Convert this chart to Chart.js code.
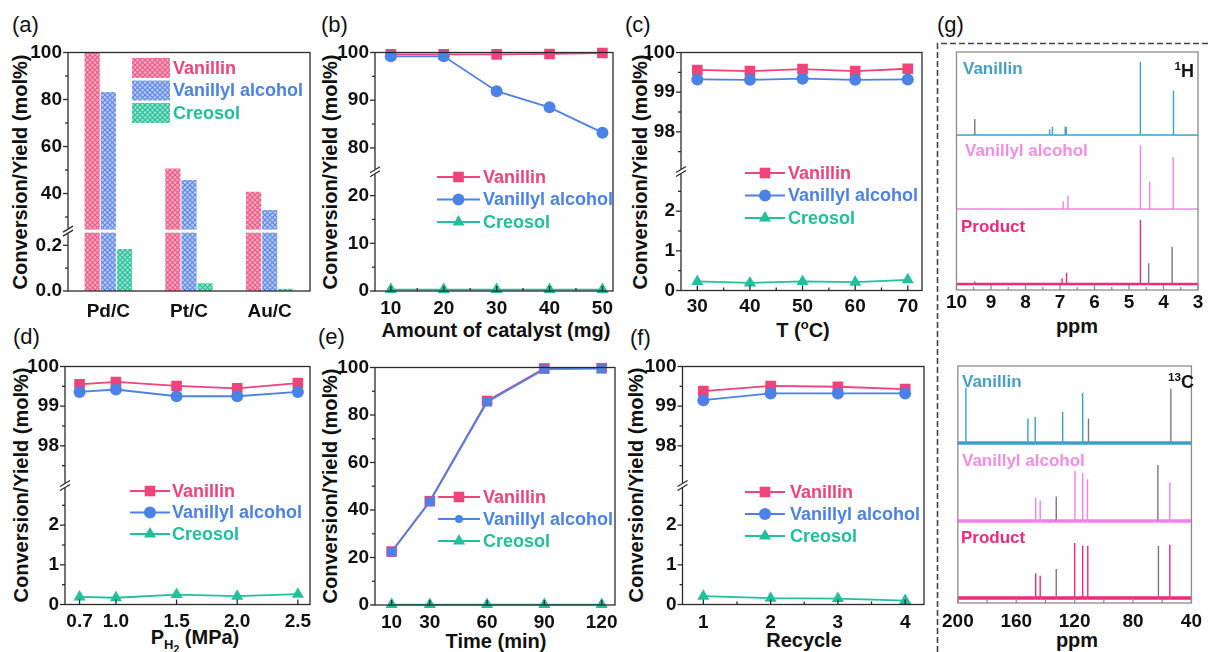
<!DOCTYPE html>
<html>
<head>
<meta charset="utf-8">
<script src="https://cdn.jsdelivr.net/npm/chart.js@4.4.1/dist/chart.umd.min.js"></script>
<style>
  body { margin: 0; width: 1209px; height: 652px; overflow: hidden; position: relative; background: #fff;
         font-family: 'Liberation Sans', Arial, sans-serif; color: #111; }
  canvas { position: absolute; }
  .lbl { position: absolute; font-size: 22px; line-height: 22px; }
  .t { position: absolute; font-weight: bold; font-size: 20px; line-height: 1; white-space: nowrap;
       transform: translate(-50%, -50%); }
  .yt { transform: translate(-50%, -50%) rotate(-90deg); }
  .nm { position: absolute; font-weight: bold; font-size: 17px; line-height: 1; white-space: nowrap;
        transform: translateY(-50%); }
  sub, sup { font-size: 0.65em; }
  sub sub { font-size: 0.8em; }
</style>
</head>
<body>

<div class="lbl" style="left:12px;top:14px">(a)</div>
<div class="lbl" style="left:321px;top:14px">(b)</div>
<div class="lbl" style="left:625px;top:14px">(c)</div>
<div class="lbl" style="left:937px;top:14px">(g)</div>
<div class="lbl" style="left:13px;top:326px">(d)</div>
<div class="lbl" style="left:318px;top:326px">(e)</div>
<div class="lbl" style="left:630px;top:327px">(f)</div>

<div class="t yt" style="left:20px;top:172px">Conversion/Yield (mol%)</div>
<div class="t yt" style="left:330px;top:172px">Conversion/Yield (mol%)</div>
<div class="t yt" style="left:640px;top:172px">Conversion/Yield (mol%)</div>
<div class="t yt" style="left:21px;top:485px">Conversion/Yield (mol%)</div>
<div class="t yt" style="left:330px;top:486px">Conversion/Yield (mol%)</div>
<div class="t yt" style="left:636px;top:485px">Conversion/Yield (mol%)</div>

<div class="t" style="left:496px;top:330px">Amount of catalyst (mg)</div>
<div class="t" style="left:803px;top:329px">T (<sup>o</sup>C)</div>
<div class="t" style="left:1077px;top:326px">ppm</div>
<div class="t" style="left:195px;top:641px">P<sub>H<sub>2</sub></sub> (MPa)</div>
<div class="t" style="left:496px;top:641px">Time (min)</div>
<div class="t" style="left:804px;top:640px">Recycle</div>
<div class="t" style="left:1077px;top:640px">ppm</div>

<svg style="position:absolute;left:0;top:0" width="1209" height="652">
  <path d="M937.5 652 L937.5 43.5 L1209 43.5" fill="none" stroke="#444" stroke-width="1.6" stroke-dasharray="6 3"/>
</svg>

<script>
// ---------------- data ----------------
const SERIES = ['Vanillin', 'Vanillyl alcohol', 'Creosol'];

// (a) catalyst screening
const CATALYSTS = ['Pd/C', 'Pt/C', 'Au/C'];
const A_VANILLIN = [100, 50.6, 40.8];
const A_ALCOHOL = [83.2, 45.8, 33.0];
const A_CREOSOL = [0.184, 0.034, 0.01];
const A_TICKS_UP = [40, 60, 80, 100];
const A_TICKS_LO = [0, 0.1, 0.2];

// (b) amount of catalyst
const B_MASS = [10, 20, 30, 40, 50];
const B_VANILLIN = [99.6, 99.6, 99.6, 99.7, 99.9];
const B_ALCOHOL = [99.2, 99.2, 91.9, 88.5, 83.2];
const B_CREOSOL = [0.3, 0.3, 0.3, 0.3, 0.3];
const B_TICKS_UP = [80, 90, 100];
const B_TICKS_LO = [0, 10, 20];

// (c) temperature
const C_TEMP = [30, 40, 50, 60, 70];
const C_VANILLIN = [99.56, 99.53, 99.58, 99.53, 99.59];
const C_ALCOHOL = [99.32, 99.31, 99.34, 99.31, 99.32];
const C_CREOSOL = [0.23, 0.19, 0.23, 0.21, 0.27];

// (d) H2 pressure
const D_PRESSURE = [0.7, 1.0, 1.5, 2.0, 2.5];
const D_VANILLIN = [99.55, 99.61, 99.51, 99.45, 99.58];
const D_ALCOHOL = [99.36, 99.42, 99.25, 99.25, 99.36];
const D_CREOSOL = [0.19, 0.17, 0.25, 0.21, 0.26];

// (e) time
const E_TIME = [10, 30, 60, 90, 120];
const E_VANILLIN = [22.5, 43.7, 85.9, 99.6, 99.7];
const E_ALCOHOL = [22.3, 43.5, 85.5, 99.3, 99.5];
const E_CREOSOL = [0.2, 0.2, 0.2, 0.2, 0.2];
const E_TICKS = [0, 20, 40, 60, 80, 100];

// (f) recycle
const F_RUN = [1, 2, 3, 4];
const F_VANILLIN = [99.38, 99.51, 99.49, 99.43];
const F_ALCOHOL = [99.15, 99.32, 99.32, 99.32];
const F_CREOSOL = [0.21, 0.16, 0.15, 0.10];

const NARROW_UP = [98, 99, 100];
const NARROW_LO = [0, 1, 2];

// (g) NMR sticks: ppm, relative intensity, stacking offset
const H_TICKS = [10, 9, 8, 7, 6, 5, 4, 3];
const H_VAN_PPM = [9.47, 7.30, 7.22, 6.85, 6.82, 4.67, 3.71];
const H_VAN_INT = [6.7, 2.4, 3.5, 3.5, 3.5, 30.8, 18.6];
const H_ALC_PPM = [6.91, 6.77, 4.67, 4.40, 3.72];
const H_ALC_INT = [3.2, 5.6, 26.8, 11.6, 21.8];
const H_PRO_PPM = [9.47, 6.94, 6.81, 4.67, 4.43, 3.75];
const H_PRO_INT = [1.1, 2.4, 4.7, 26.9, 8.7, 15.7];
const H_OFFSETS = [65.1, 34.0, 2.5];

const C_TICKS = [200, 160, 120, 80, 40];
const C_VAN_PPM = [194.5, 152.0, 147.0, 128.2, 114.5, 110.5, 54.1];
const C_VAN_INT = [23.2, 10.3, 11.0, 13.1, 21.1, 10.3, 22.9];
const C_ALC_PPM = [146.7, 143.6, 132.6, 119.8, 114.5, 111.2, 63.0, 54.8];
const C_ALC_INT = [9.8, 8.6, 10.3, 21.2, 20.1, 17.6, 23.6, 16.2];
const C_PRO_PPM = [146.7, 143.6, 132.6, 120.0, 114.5, 111.0, 62.6, 54.8];
const C_PRO_INT = [10.3, 9.4, 12.2, 23.2, 22.1, 22.1, 22.1, 22.5];
const C_OFFSETS = [67.5, 34.6, 2.1];

// ---------------- style ----------------
const INK = '#111';
const FRAME = '#2b2b2b';
const GRAY = '#7a7a7a';
const TICK_FONT = { size: 19, weight: 'bold' };
const YW = 45, XH = 40;
const STYLE = {
  'Vanillin':         { color: '#f0427b', pointStyle: 'rect',     r: 7.5, order: 1 },
  'Vanillyl alcohol': { color: '#4a82e6', pointStyle: 'circle',   r: 6,   order: 0 },
  'Creosol':          { color: '#1fc09b', pointStyle: 'triangle', r: 7,   order: 2 }
};
const SPEC = { van: '#38a0cc', alc: '#f57fe8', pro: '#f0287c' };

Chart.defaults.font.family = "'Liberation Sans', Arial, sans-serif";
Chart.defaults.color = INK;

function canvasAt(x, y, w, h) {
  const c = document.createElement('canvas');
  c.width = w; c.height = h;
  c.style.left = x + 'px'; c.style.top = y + 'px';
  c.style.width = w + 'px'; c.style.height = h + 'px';
  document.body.appendChild(c);
  return c;
}

function pad(box, area, yw, xh) {
  return { left: area[0] - box[0] - yw, top: area[1] - box[1],
           right: box[0] + box[2] - area[2], bottom: box[1] + box[3] - area[3] - xh };
}

function yAxis(min, max, ticks, weight, fmt) {
  const s = {
    type: 'linear', position: 'left', min, max, stacked: false,
    afterBuildTicks: a => { a.ticks = ticks.map(v => ({ value: v })); },
    afterFit: a => { a.width = YW; },
    grid: { display: false, drawTicks: false }, border: { display: false },
    ticks: { padding: 6, font: TICK_FONT, color: INK, callback: fmt || (v => String(v)) }
  };
  if (weight) { s.stack = 'left'; s.stackWeight = weight; }
  return s;
}

function xAxis(min, max, ticks, padding, fmt, reverse) {
  return {
    type: 'linear', min, max, reverse: !!reverse,
    afterBuildTicks: a => { a.ticks = ticks.map(v => ({ value: v })); },
    afterFit: a => { a.height = XH; },
    grid: { display: false, drawTicks: false }, border: { display: false },
    ticks: { padding, font: TICK_FONT, color: INK, autoSkip: false, maxRotation: 0,
             callback: fmt || (v => String(v)) }
  };
}

// clip every dataset to the band of its own y scale (broken axes)
const band = {
  id: 'band',
  beforeDatasetDraw(chart, args) {
    const s = chart.scales[args.meta.yAxisID], a = chart.chartArea, ctx = chart.ctx;
    const top = s.top <= a.top + 1 ? 0 : s.top;
    const bot = s.bottom >= a.bottom - 1 ? chart.height : s.bottom;
    ctx.save();
    ctx.beginPath(); ctx.rect(0, top, chart.width, bot - top); ctx.clip();
  },
  afterDatasetDraw(chart) { chart.ctx.restore(); }
};

// box, ticks and axis break (y = upper scale, y2 = lower scale)
function frame(cfg) {
  return {
    id: 'frame',
    afterDatasetsDraw(chart) {
      if (!cfg.gap) return;
      const a = chart.chartArea, yb = chart.scales.y.bottom, ctx = chart.ctx;
      ctx.save(); ctx.fillStyle = '#fff';
      ctx.fillRect(a.left, yb - 1.5, a.right - a.left, 3);
      ctx.restore();
    },
    afterDraw(chart) {
      const ctx = chart.ctx, a = chart.chartArea;
      ctx.save();
      ctx.strokeStyle = cfg.color; ctx.lineWidth = cfg.width;
      ctx.strokeRect(a.left, a.top, a.right - a.left, a.bottom - a.top);
      for (const id of Object.keys(cfg.axes)) {
        const t = cfg.axes[id], s = chart.scales[id];
        const major = s.ticks.map(k => k.value);
        let minor = [];
        if (t.minor === 'half' && major.length > 1) {
          const st = (major[1] - major[0]) / 2;
          const lo = Math.min(s.min, s.max), hi = Math.max(s.min, s.max);
          for (let k = -61; k <= 61; k += 2) {
            const v = major[0] + k * st;
            if (v >= lo - 1e-9 && v <= hi + 1e-9) minor.push(v);
          }
        } else if (Array.isArray(t.minor)) minor = t.minor;
        const draw = (v, len) => {
          const p = s.getPixelForValue(v);
          ctx.beginPath();
          if (s.isHorizontal()) {
            ctx.moveTo(p, a.bottom); ctx.lineTo(p, t.dir === 'in' ? a.bottom - len : a.bottom + len);
          } else {
            ctx.moveTo(a.left, p); ctx.lineTo(t.dir === 'in' ? a.left + len : a.left - len, p);
          }
          ctx.stroke();
        };
        major.forEach(v => draw(v, 5));
        minor.forEach(v => draw(v, 3));
      }
      if (cfg.brk) {
        const yb = chart.scales.y.bottom, x0 = a.left;
        ctx.fillStyle = '#fff';
        ctx.fillRect(x0 - 3, yb - 2.5, 6, 5);
        ctx.beginPath();
        ctx.moveTo(x0 - 5, yb + 1); ctx.lineTo(x0 + 5, yb - 5);
        ctx.moveTo(x0 - 5, yb + 5); ctx.lineTo(x0 + 5, yb - 1);
        ctx.stroke();
      }
      ctx.restore();
    }
  };
}

function marker(ctx, style, x, y, r, color) {
  ctx.fillStyle = color;
  ctx.beginPath();
  if (style === 'rect') {
    const h = r * Math.SQRT1_2; ctx.rect(x - h, y - h, 2 * h, 2 * h);
  } else if (style === 'triangle') {
    ctx.moveTo(x, y - r); ctx.lineTo(x + r * 0.866, y + r * 0.5); ctx.lineTo(x - r * 0.866, y + r * 0.5);
    ctx.closePath();
  } else {
    ctx.arc(x, y, r, 0, Math.PI * 2);
  }
  ctx.fill();
}

function legend(cfg) {
  return {
    id: 'lg',
    afterDraw(chart) {
      const ctx = chart.ctx;
      ctx.save();
      ctx.font = "bold 18px 'Liberation Sans', Arial, sans-serif";
      ctx.textBaseline = 'middle';
      cfg.items.forEach((it, i) => {
        const y = cfg.y + i * cfg.dy;
        if (it.fill) {
          ctx.fillStyle = it.fill; ctx.fillRect(cfg.x, y - 10, cfg.w, 20);
        } else {
          ctx.strokeStyle = it.color; ctx.lineWidth = 1.8;
          ctx.beginPath(); ctx.moveTo(cfg.x, y); ctx.lineTo(cfg.x + cfg.w, y); ctx.stroke();
          marker(ctx, it.style, cfg.x + cfg.w / 2, y, it.r, it.color);
        }
        ctx.fillStyle = it.color;
        ctx.fillText(it.text, cfg.tx, y + 1);
      });
      ctx.restore();
    }
  };
}

function legendItems(over) {
  return SERIES.map(n => Object.assign({ text: n, color: STYLE[n].color, style: STYLE[n].pointStyle, r: STYLE[n].r },
                                       (over || {})[n]));
}

function lineSet(name, xs, ys, axis, over) {
  const st = Object.assign({}, STYLE[name], over);
  return {
    label: name, data: xs.map((x, i) => ({ x, y: ys[i] })), yAxisID: axis,
    borderColor: st.color, backgroundColor: st.color, borderWidth: 1.8, tension: 0,
    pointStyle: st.pointStyle, pointRadius: st.r, pointHoverRadius: st.r, pointBorderWidth: 0,
    clip: false, order: st.order
  };
}

const BASE_OPTS = { responsive: false, animation: false, events: [] };
const NO_LEGEND = { legend: { display: false }, tooltip: { enabled: false } };

// in a stack the scale declared last is placed on top, so y2 (lower band) goes first
function brokenPanel(box, area, xs, values, x, xMinor, up, lo, lg) {
  const datasets = [];
  ['y', 'y2'].forEach(ax => SERIES.forEach((n, i) => datasets.push(lineSet(n, xs, values[i], ax))));
  new Chart(canvasAt(...box), {
    type: 'line',
    data: { datasets },
    options: Object.assign({}, BASE_OPTS, {
      layout: { padding: pad(box, area, YW, XH) },
      scales: { x, y2: yAxis(lo[0], lo[1], lo[2], 1), y: yAxis(up[0], up[1], up[2], 1) },
      plugins: NO_LEGEND
    }),
    plugins: [band, frame({ color: FRAME, width: 1.3, brk: true,
                            axes: { x: { dir: 'in', minor: xMinor }, y: { dir: 'out', minor: 'half' }, y2: { dir: 'out', minor: 'half' } } }),
              legend(Object.assign({ items: legendItems() }, lg))]
  });
}

// ---------------- (a) ----------------
(function () {
  const box = [0, 0, 318, 345], area = [68, 52.5, 310, 291];
  const c = canvasAt(...box), g = c.getContext('2d');
  const hatch = (bg, fg) => {
    const t = document.createElement('canvas'); t.width = t.height = 5;
    const h = t.getContext('2d');
    h.fillStyle = bg; h.fillRect(0, 0, 5, 5);
    h.strokeStyle = fg; h.lineWidth = 1.1;
    h.beginPath(); h.moveTo(0, 0); h.lineTo(5, 5); h.moveTo(5, 0); h.lineTo(0, 5); h.stroke();
    return g.createPattern(t, 'repeat');
  };
  const fills = [hatch('#f7a9c0', '#ec5887'), hatch('#b6c9f4', '#5f87e6'), hatch('#93e2cb', '#25bf99')];
  const vals = [A_VANILLIN, A_ALCOHOL, A_CREOSOL];
  const datasets = [];
  ['y', 'y2'].forEach(ax => SERIES.forEach((n, i) => datasets.push({
    label: n, data: vals[i], yAxisID: ax, stack: n, backgroundColor: fills[i], borderWidth: 0,
    categoryPercentage: 0.6, barPercentage: 0.94
  })));
  new Chart(c, {
    type: 'bar',
    data: { labels: CATALYSTS, datasets },
    options: Object.assign({}, BASE_OPTS, {
      layout: { padding: pad(box, area, YW, XH) },
      scales: {
        x: { type: 'category', afterFit: a => { a.height = XH; },
             grid: { display: false, drawTicks: false }, border: { display: false },
             ticks: { padding: 9, font: TICK_FONT, color: INK } },
        y2: yAxis(0, 0.262, A_TICKS_LO, 60, v => v.toFixed(1)),
        y: yAxis(24, 100, A_TICKS_UP, 179)
      },
      plugins: NO_LEGEND
    }),
    plugins: [band, frame({ color: FRAME, width: 1.3, brk: true, gap: true,
                            axes: { y: { dir: 'out', minor: 'half' }, y2: { dir: 'out', minor: 'half' } } }),
              legend({ x: 132, w: 38, tx: 173, y: 68, dy: 22.5,
                       items: SERIES.map((n, i) => ({ text: n, color: STYLE[n].color, fill: fills[i] })) })]
  });
})();

// ---------------- (b) (c) (d) (f) ----------------
brokenPanel([318, 0, 307, 345], [375, 52.5, 613, 291], B_MASS, [B_VANILLIN, B_ALCOHOL, B_CREOSOL],
  xAxis(7, 52, B_MASS, 6), 'half', [75, 100, B_TICKS_UP], [0, 25, B_TICKS_LO],
  { x: 119, w: 43, tx: 165, y: 177, dy: 22.5 });

brokenPanel([625, 0, 310, 345], [681, 52.5, 922, 290.5], C_TEMP, [C_VANILLIN, C_ALCOHOL, C_CREOSOL],
  xAxis(26.9, 72.7, C_TEMP, 5), 'half', [97, 100, NARROW_UP], [0, 3, NARROW_LO],
  { x: 120, w: 40, tx: 163, y: 173, dy: 22.5 });

brokenPanel([0, 345, 318, 307], [65, 366.5, 310, 604.5], D_PRESSURE, [D_VANILLIN, D_ALCOHOL, D_CREOSOL],
  xAxis(0.58, 2.6, D_PRESSURE, 5.5, v => v.toFixed(1)), null, [97, 100, NARROW_UP], [0, 3, NARROW_LO],
  { x: 130, w: 40, tx: 172, y: 146, dy: 21.5 });

brokenPanel([625, 345, 310, 307], [682.5, 366.5, 924, 604.5], F_RUN, [F_VANILLIN, F_ALCOHOL, F_CREOSOL],
  xAxis(0.69, 4.28, F_RUN, 6.5), 'half', [97, 100, NARROW_UP], [0, 3, NARROW_LO],
  { x: 120, w: 40, tx: 165, y: 147, dy: 22 });

// ---------------- (e) ----------------
(function () {
  const box = [318, 345, 307, 307], area = [375, 367.5, 615, 605];
  const values = [E_VANILLIN, E_ALCOHOL, E_CREOSOL];
  const over = { 'Vanillyl alcohol': { pointStyle: 'rect', r: 6.3 } };
  new Chart(canvasAt(...box), {
    type: 'line',
    data: { datasets: SERIES.map((n, i) => lineSet(n, E_TIME, values[i], 'y', over[n])) },
    options: Object.assign({}, BASE_OPTS, {
      layout: { padding: pad(box, area, YW, XH) },
      scales: { x: xAxis(1.3, 127, E_TIME, 6), y: yAxis(0, 100, E_TICKS) },
      plugins: NO_LEGEND
    }),
    plugins: [frame({ color: FRAME, width: 1.3, axes: { x: { dir: 'in' }, y: { dir: 'out', minor: 'half' } } }),
              legend({ x: 120, w: 42, tx: 165, y: 152, dy: 22,
                       items: legendItems({ 'Vanillyl alcohol': { r: 4 } }) })]
  });
})();

// ---------------- (g) NMR ----------------
function sticks(ppm, h, off, lo, hi) {
  const pts = [{ x: hi, y: off }];
  ppm.map((p, i) => i).sort((a, b) => ppm[b] - ppm[a]).forEach(i => {
    pts.push({ x: ppm[i], y: off }, { x: ppm[i], y: off + h[i] }, { x: ppm[i], y: off });
  });
  pts.push({ x: lo, y: off });
  return pts;
}

function nmrPanel(box, area, lo, hi, ticks, tickPad, specs) {
  const datasets = specs.map(sp => {
    const pts = sticks(sp.ppm, sp.h, sp.off, lo, hi);
    const vert = k => pts[k.p0DataIndex].x === pts[k.p1DataIndex].x;
    return {
      data: pts, borderColor: sp.color, borderWidth: 1.4, pointRadius: 0, clip: false, tension: 0,
      segment: {
        borderWidth: k => vert(k) ? 1.4 : sp.base,
        borderColor: k => (vert(k) && sp.gray.includes(pts[k.p0DataIndex].x)) ? GRAY : sp.color
      }
    };
  });
  new Chart(canvasAt(...box), {
    type: 'line',
    data: { datasets },
    options: Object.assign({}, BASE_OPTS, {
      layout: { padding: pad(box, area, 0, XH) },
      scales: { x: xAxis(lo, hi, ticks, tickPad, null, true), y: { display: false, min: 0, max: 100 } },
      plugins: NO_LEGEND
    }),
    plugins: [frame({ color: '#8c8c8c', width: 1.3, axes: { x: { dir: 'in', minor: 'half' } } })]
  });
}

nmrPanel([935, 0, 274, 345], [956.5, 52, 1198, 290], 3, 10, H_TICKS, 1, [
  { ppm: H_VAN_PPM, h: H_VAN_INT, off: H_OFFSETS[0], color: SPEC.van, base: 1.5, gray: [9.47] },
  { ppm: H_ALC_PPM, h: H_ALC_INT, off: H_OFFSETS[1], color: SPEC.alc, base: 1.5, gray: [] },
  { ppm: H_PRO_PPM, h: H_PRO_INT, off: H_OFFSETS[2], color: SPEC.pro, base: 2.5, gray: [4.43, 3.75] }
]);

nmrPanel([935, 345, 274, 307], [955.7, 366, 1198, 603], 40, 200, C_TICKS, 7, [
  { ppm: C_VAN_PPM, h: C_VAN_INT, off: C_OFFSETS[0], color: SPEC.van, base: 3.5, gray: [110.5, 54.1] },
  { ppm: C_ALC_PPM, h: C_ALC_INT, off: C_OFFSETS[1], color: SPEC.alc, base: 3.5, gray: [132.6, 63.0] },
  { ppm: C_PRO_PPM, h: C_PRO_INT, off: C_OFFSETS[2], color: SPEC.pro, base: 3.5, gray: [132.6, 62.6] }
]);
</script>

<div class="nm" style="left:963px;top:68px;color:#45a0c8">Vanillin</div>
<div class="nm" style="left:965px;top:150px;color:#f28ce6">Vanillyl alcohol</div>
<div class="nm" style="left:961px;top:226px;color:#f0287c">Product</div>
<div class="nm" style="right:15px;top:70px;color:#111;font-size:18px"><sup>1</sup>H</div>
<div class="nm" style="left:962px;top:381px;color:#45a0c8">Vanillin</div>
<div class="nm" style="left:962px;top:460px;color:#f28ce6">Vanillyl alcohol</div>
<div class="nm" style="left:961px;top:537px;color:#f0287c">Product</div>
<div class="nm" style="right:15px;top:381px;color:#111;font-size:18px"><sup>13</sup>C</div>
</body>
</html>
